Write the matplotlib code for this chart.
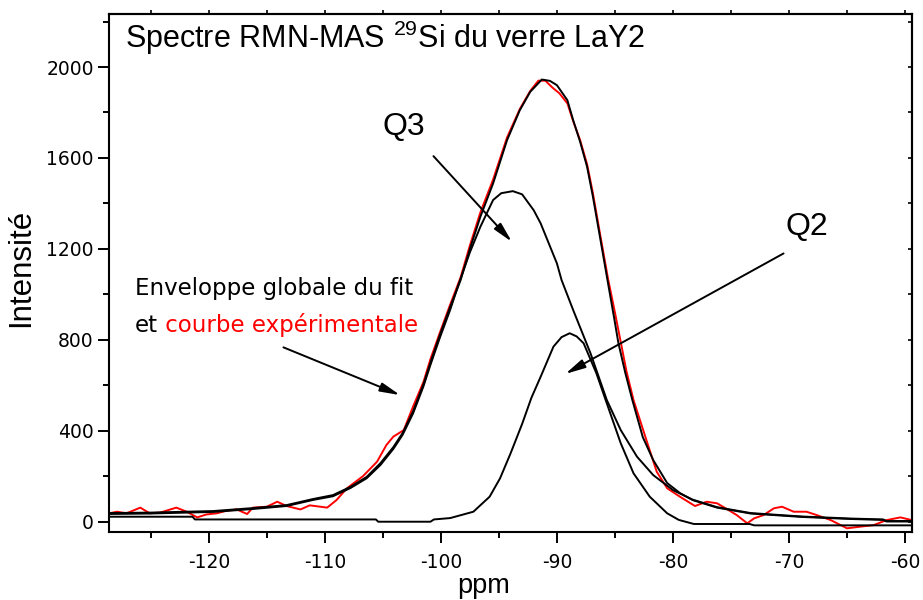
import matplotlib
matplotlib.use('Agg')
import matplotlib.pyplot as plt
from matplotlib.ticker import MultipleLocator

plt.rcParams['font.family'] = ['Liberation Sans', 'DejaVu Sans']
plt.rcParams['mathtext.fontset'] = 'custom'
plt.rcParams['mathtext.rm'] = 'Liberation Sans'
plt.rcParams['axes.unicode_minus'] = False

# courbe experimentale (rouge)
exp_ppm = [-128.6, -127.9, -127.1, -125.9, -125.1, -124.2, -122.8, -121.9, -121.0, -120.2,
           -119.3, -118.5, -117.6, -116.7, -116.2, -115.0, -114.1, -113.3, -112.1, -111.3,
           -109.8, -109.0, -108.1, -106.7, -105.5, -104.7, -104.1, -103.2, -102.4, -101.5,
           -100.9, -100.1, -99.2, -98.3, -97.5, -96.6, -95.5, -94.3, -93.2, -92.3,
           -91.6, -91.0, -90.4, -89.8, -89.1, -88.6, -88.0, -87.4, -86.9, -86.3,
           -85.6, -85.0, -84.5, -84.0, -83.4, -82.2, -81.4, -80.5, -79.4, -78.1,
           -77.1, -76.2, -75.3, -74.5, -73.6, -73.0, -72.2, -71.3, -70.6, -69.6,
           -68.5, -67.6, -66.4, -65.0, -63.9, -62.7, -61.6, -60.4, -59.4]
exp_int = [37, 44, 37, 62, 37, 40, 62, 44, 19, 32,
           37, 48, 54, 34, 62, 66, 88, 69, 54, 72,
           62, 95, 147, 201, 264, 337, 374, 403, 506, 615,
           715, 830, 955, 1075, 1215, 1360, 1505, 1690, 1815, 1895,
           1940, 1940, 1910, 1885, 1840, 1762, 1678, 1572, 1445, 1270,
           1070, 920, 790, 660, 535, 345, 220, 147, 110, 69,
           88, 81, 54, 29, -7, 15, 29, 59, 66, 44,
           44, 29, 7, -29, -22, -15, 7, 19, 7]

# enveloppe globale du fit
env_ppm = [-128.6, -125.1, -119.6, -116.2, -113.3, -111.0, -109.3, -107.8, -106.4, -105.2,
           -104.1, -103.3, -102.4, -101.5, -100.9, -100.1, -99.2, -98.3, -97.5, -96.6,
           -95.5, -94.3, -93.2, -92.3, -91.3, -90.6, -90.0, -89.1, -88.6, -88.0,
           -87.4, -86.9, -86.3, -85.6, -85.1, -84.7, -84.1, -83.5, -82.6, -81.7,
           -80.5, -79.4, -78.3, -76.2, -73.3, -68.9, -64.7, -61.9, -61.6, -59.4]
env_int = [38, 40, 47, 60, 73, 100, 117, 153, 197, 258,
           328, 390, 485, 605, 700, 820, 945, 1063, 1200, 1341,
           1488, 1678, 1810, 1891, 1945, 1939, 1920, 1854, 1766, 1671,
           1561, 1430, 1255, 1050, 905, 785, 653, 535, 372, 271,
           170, 126, 95, 62, 36, 21, 12, 8, 1, 1]

# composante Q3
q3_ppm = [-128.6, -125.1, -119.6, -116.2, -113.3, -111.0, -109.3, -107.8, -106.4, -105.2,
          -104.1, -103.3, -102.4, -101.5, -100.9, -100.1, -99.2, -98.5, -97.5, -96.6,
          -95.5, -94.8, -93.8, -93.0, -92.0, -91.4, -90.0, -89.6, -88.6, -87.1,
          -85.7, -84.5, -83.1, -81.7, -80.0, -78.3, -76.2, -73.3, -68.9, -64.7,
          -61.9, -61.6, -59.4]
q3_int = [34, 36, 43, 56, 69, 96, 112, 148, 191, 250,
          320, 382, 476, 596, 690, 808, 932, 1040, 1185, 1297,
          1415, 1445, 1454, 1440, 1370, 1312, 1136, 1063, 931, 740,
          535, 403, 286, 205, 139, 97, 64, 38, 23, 14,
          10, 3, 3]

# composante Q2
q2_ppm = [-128.6, -121.4, -121.2, -105.6, -105.4, -100.9, -100.6, -99.2, -97.2, -95.8,
          -94.9, -94.0, -93.0, -92.2, -91.4, -90.3, -89.6, -88.9, -88.3, -87.7,
          -86.6, -85.8, -84.5, -83.4, -82.0, -80.5, -79.5, -78.2, -73.4, -73.0,
          -59.4]
q2_int = [22, 22, 10, 10, 0, 0, 10, 16, 44, 110,
          191, 300, 430, 545, 638, 770, 812, 829, 815, 785,
          653, 535, 345, 213, 110, 37, 8, -10, -10, -16,
          -16]

x_ticks = [-120, -110, -100, -90, -80, -70, -60]
y_ticks = [0, 400, 800, 1200, 1600, 2000]

fig = plt.figure(figsize=(9.23, 6), dpi=100)
ax = fig.add_axes([0.1181, 0.1138, 0.870, 0.8628])

ax.plot(exp_ppm, exp_int, color='red', lw=1.4)
ax.plot(env_ppm, env_int, color='black', lw=1.4)
ax.plot(q3_ppm, q3_int, color='black', lw=1.4)
ax.plot(q2_ppm, q2_int, color='black', lw=1.4)

ax.set_xlim(-128.6, -59.4)
ax.set_ylim(-44, 2233)

ax.set_xticks(x_ticks)
ax.set_yticks(y_ticks)
ax.xaxis.set_minor_locator(MultipleLocator(5))
ax.yaxis.set_minor_locator(MultipleLocator(200))
ax.tick_params(which='major', direction='out', length=8, width=1.4, labelsize=13.5, pad=3)
ax.tick_params(which='minor', direction='out', length=4, width=1.4)
ax.tick_params(axis='x', which='major', pad=7)
for lab in ax.get_xticklabels() + ax.get_yticklabels():
    lab.set_family('DejaVu Sans')

for sp in ax.spines.values():
    sp.set_linewidth(1.5)

# petites graduations en haut et a droite
top = ax.secondary_xaxis('top')
top.set_xticks(x_ticks)
top.xaxis.set_minor_locator(MultipleLocator(5))
top.tick_params(which='both', direction='out', length=3, width=1.2, labeltop=False)
top.spines['top'].set_linewidth(1.5)
right = ax.secondary_yaxis('right')
right.set_yticks(y_ticks)
right.yaxis.set_minor_locator(MultipleLocator(200))
right.tick_params(which='both', direction='in', length=3, width=1.2, labelright=False)
right.spines['right'].set_linewidth(1.5)

ax.set_xlabel('ppm', fontsize=19.5)
ax.xaxis.set_label_coords(0.467, -0.08)
ax.set_ylabel('Intensité', fontsize=22.5)
ax.yaxis.set_label_coords(-0.091, 0.51)

ax.text(0.02, 0.954, r'Spectre RMN-MAS $^{29}$Si du verre LaY2', transform=ax.transAxes,
        fontsize=22, va='center', ha='left')

# annotations
ax.text(-105.07, 1735, 'Q3', fontsize=23, va='center', ha='left')
ax.text(-70.32, 1295, 'Q2', fontsize=23, va='center', ha='left')
t1 = ax.text(-126.34, 1027, 'Enveloppe globale du fit', fontsize=16.5,
             family='DejaVu Sans', va='center', ha='left')
t2 = ax.text(-126.34, 864, 'et', fontsize=16.5, family='DejaVu Sans', va='center', ha='left')
ax.annotate(' courbe expérimentale', xy=(1, 0), xycoords=t2, va='bottom', ha='left',
            fontsize=16.5, family='DejaVu Sans', color='red')

arrow = dict(arrowstyle='-|>,head_length=0.8,head_width=0.18', color='black', lw=1.4,
             mutation_scale=15, shrinkA=0, shrinkB=0)
ax.annotate('', xy=(-93.88, 1231), xytext=(-100.64, 1608), arrowprops=arrow)
ax.annotate('', xy=(-89.28, 650), xytext=(-70.47, 1180), arrowprops=arrow)
ax.annotate('', xy=(-103.51, 557), xytext=(-113.57, 767), arrowprops=arrow)

fig.savefig('out.png', dpi=100)
